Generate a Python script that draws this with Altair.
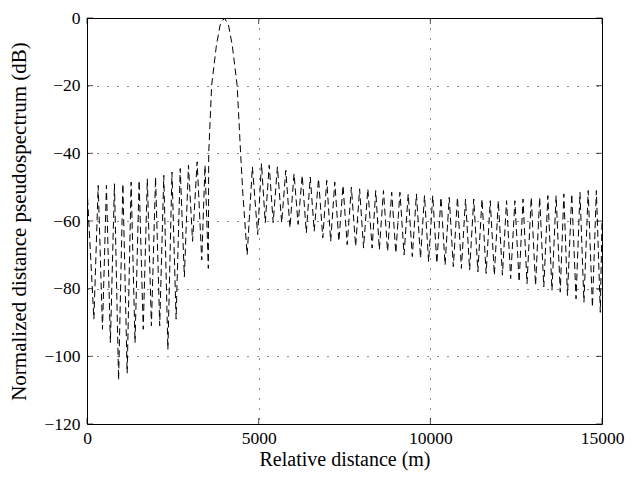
import altair as alt
import pandas as pd

# Range-profile pseudospectrum
distance_m = [
    0, 201, 326, 451, 566, 681, 800, 920, 1045, 1170, 1285, 1399, 1518, 1638,
    1757, 1876, 1997, 2118, 2237, 2356, 2475, 2595, 2715, 2836, 2955, 3075,
    3208, 3342, 3438, 3534,
    3545, 3630, 3770, 3880, 4000, 4120, 4230, 4374, 4474, 4540, 4665,
    4818, 4971, 5082, 5192, 5307, 5422, 5546, 5670, 5790, 5911, 6030, 6149,
    6268, 6388, 6503, 6618, 6743, 6868, 6983, 7098, 7217, 7336, 7457, 7578,
    7700, 7825, 7940, 8055, 8180, 8305, 8410, 8515, 8635, 8755, 8875, 8995,
    9115, 9235, 9355, 9475, 9595, 9715, 9830, 9950, 10070, 10190, 10310,
    10430, 10550, 10670, 10790, 10905, 11025, 11145, 11265, 11385, 11505,
    11625, 11745, 11865, 11980, 12100, 12220, 12340, 12463, 12586, 12700,
    12816, 12940, 13065, 13185, 13305, 13424, 13543, 13663, 13784, 13889,
    13994, 14119, 14244, 14359, 14474, 14597, 14721, 14836, 14951, 15000,
]
level_db = [
    -50, -89, -49.5, -92, -49.5, -96, -49, -107, -49, -105, -48.5, -96, -48, -92,
    -47.5, -91, -47, -91, -46.5, -98, -45.5, -89, -44.5, -76.5, -43.5, -66,
    -42.5, -71.5, -43.5, -74,
    -40, -20, -8, -2, 0, -2, -8, -20, -40, -52, -70,
    -44, -64, -43, -60.5, -43.5, -60.5, -44, -60.5, -45, -62, -46, -61,
    -46.5, -63.5, -47, -63, -47.5, -65, -48, -66, -48.5, -66, -49.5, -67,
    -50, -67.5, -50.5, -68, -50.5, -68, -51, -68.5, -51, -69, -51.5, -69.5,
    -51.5, -70, -52, -70.5, -52, -71, -52.5, -72, -52.5, -72.5, -53,
    -73, -53, -73.5, -53, -74, -53.5, -74.5, -53.5, -75, -53.5,
    -75.5, -54, -76, -54, -76, -54, -77, -54, -78, -53.5,
    -78.5, -53, -79, -53, -79.5, -52.5, -80.5, -52.5, -81, -52,
    -82, -52, -83, -51.5, -84, -51, -85.5, -51, -87, -60,
]

x_ticks = [0, 5000, 10000, 15000]
y_ticks = [-120, -100, -80, -60, -40, -20, 0]

W, H = 515, 406
FONT = "Liberation Serif"

df = pd.DataFrame({"d": distance_m, "p": level_db})
xt = pd.DataFrame({"d": x_ticks})
yt = pd.DataFrame({"p": y_ticks})

xscale = alt.Scale(domain=[0, 15000], nice=False, zero=False)
yscale = alt.Scale(domain=[-120, 0], nice=False, zero=False)

xaxis = alt.Axis(values=x_ticks, format="d", labelPadding=5, titlePadding=3,
                 labelFlush=False, titleFontSize=20)
yaxis = alt.Axis(values=y_ticks, labelPadding=7, titlePadding=14,
                 titleFontSize=21)
XT = "Relative distance (m)"
YT = "Normalized distance pseudospectrum (dB)"

X = alt.X("d:Q", scale=xscale, title=XT, axis=xaxis)
Y = alt.Y("p:Q", scale=yscale, title=YT, axis=yaxis)

line = alt.Chart(df).mark_line(
    color="black", strokeWidth=1, strokeDash=[7, 4], clip=True
).encode(x=X, y=Y)

tick_style = dict(color="black", thickness=1, size=6)
xt_bottom = alt.Chart(xt).mark_tick(orient="vertical", **tick_style).encode(
    x=X, y=alt.value(H - 3))
xt_top = alt.Chart(xt).mark_tick(orient="vertical", **tick_style).encode(
    x=X, y=alt.value(3))
yt_left = alt.Chart(yt).mark_tick(orient="horizontal", **tick_style).encode(
    y=Y, x=alt.value(3))
yt_right = alt.Chart(yt).mark_tick(orient="horizontal", **tick_style).encode(
    y=Y, x=alt.value(W - 3))

chart = alt.layer(line, xt_bottom, xt_top, yt_left, yt_right).properties(
    width=W, height=H,
    autosize=alt.AutoSizeParams(type="none"),
    padding={"left": 79, "top": 10, "right": 25, "bottom": 51},
).configure(
    background="white"
).configure_view(
    stroke="black", strokeWidth=1
).configure_axis(
    labelFont=FONT, titleFont=FONT, labelFontSize=17.5,
    titleFontWeight="normal", labelColor="black", titleColor="black",
    domain=False, ticks=False,
    grid=True, gridColor="black", gridWidth=1, gridDash=[1, 9], gridOpacity=0.9,
)

chart.save("out.html", embed_options={"renderer": "svg", "actions": False})
